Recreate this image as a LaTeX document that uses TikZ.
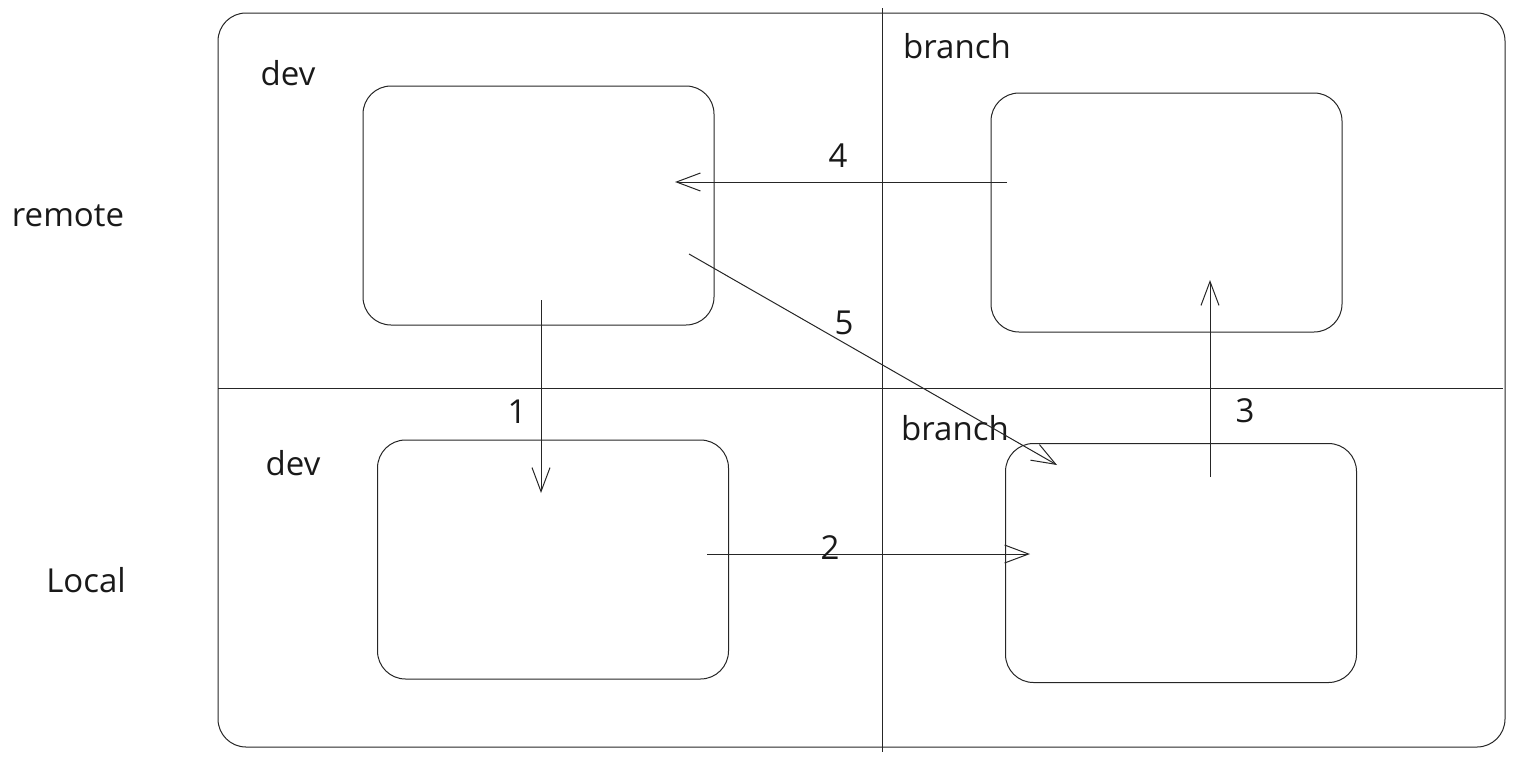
\documentclass[tikz,border=0pt]{standalone}
\usepackage{fontspec}
\setmainfont{Open Sans}
\usetikzlibrary{arrows.meta}
\begin{document}
\begin{tikzpicture}[x=1pt,y=-1pt,
  ln/.style={line width=1pt,black!85},
  box/.style={ln,draw,rounded corners=28pt,minimum width=351pt,minimum height=239pt,inner sep=0pt},
  lbl/.style={font=\fontsize{33}{38}\selectfont,inner sep=0pt,text=black!90},
  arr/.style={ln,-{Straight Barb[length=24pt,width=18pt,line width=1pt]}}]
\useasboundingbox (0,0) rectangle (1514,763);
\draw[ln,rounded corners=28pt] (218,13) rectangle (1505,747);
\coordinate (vt) at (882,8); \coordinate (vb) at (882,752);
\coordinate (hl) at (218,388); \coordinate (hr) at (1503,388);
\draw[ln] (vt) -- (vb);
\draw[ln] (hl) -- (hr);
\node[box] (rdev) at (538.5,205.5) {};
\node[box] (rbr) at (1166.5,212.5) {};
\node[box] (ldev) at (553,559.5) {};
\node[box] (lbr) at (1181,563) {};
\node[lbl] (t1) at (288,73) {dev};
\node[lbl] (t2) at (293,463) {dev};
\node[lbl] (t3) at (957,46) {branch};
\node[lbl] (t4) at (955,428) {branch};
\node[lbl] (t5) at (68,216) {remote};
\node[lbl] (t6) at (86,580) {Local};
\coordinate (a1s) at (541,300); \coordinate (a1e) at (541,493);
\coordinate (a2s) at (707,554); \coordinate (a2e) at (1030,554);
\coordinate (a3s) at (1210,477); \coordinate (a3e) at (1210,280);
\coordinate (a4s) at (1007,182); \coordinate (a4e) at (675,182);
\coordinate (a5s) at (689,254); \coordinate (a5e) at (1057,465);
\draw[arr] (a1s) -- (a1e);
\draw[arr] (a2s) -- (a2e);
\draw[arr] (a3s) -- (a3e);
\draw[arr] (a4s) -- (a4e);
\draw[arr] (a5s) -- (a5e);
\node[lbl] (n1) at (517,412) {1};
\node[lbl] (n2) at (830,548) {2};
\node[lbl] (n3) at (1245,411) {3};
\node[lbl] (n4) at (838,156) {4};
\node[lbl] (n5) at (844,323) {5};
\end{tikzpicture}
\end{document}
